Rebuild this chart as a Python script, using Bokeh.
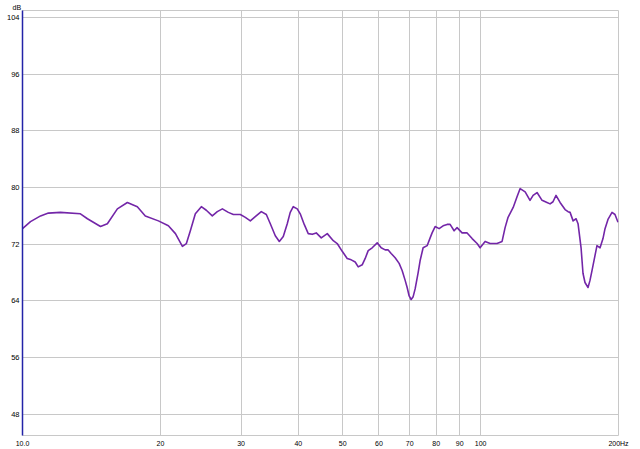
from bokeh.plotting import figure
from bokeh.models import FixedTicker, Range1d, Title
from bokeh.embed import file_html
from bokeh.resources import INLINE

# Frequency response data (Hz, dB)
freq_hz = [10.0, 10.41, 10.95, 11.39, 12.10, 13.38, 13.86, 14.80, 15.32, 16.11,
           16.94, 17.81, 18.54, 19.80, 20.82, 21.57, 22.34, 22.79, 23.25, 23.84,
           24.57, 25.19, 25.96, 26.62, 27.31, 28.14, 28.86, 29.89, 30.65, 31.43,
           32.22, 33.21, 34.06, 34.75, 35.63, 36.36, 37.09, 37.84, 38.41, 39.00,
           39.79, 40.39, 41.21, 42.05, 42.91, 43.78, 44.89, 46.27, 47.69, 48.64,
           49.88, 51.14, 52.19, 53.24, 54.06, 55.15, 55.99, 56.84, 57.99, 59.47,
           60.67, 61.90, 62.84, 63.79, 65.08, 66.40, 67.41, 68.44, 69.13, 69.83,
           70.53, 71.25, 71.96, 73.06, 73.79, 74.91, 76.43, 77.6, 78.37, 79.57,
           81.18, 82.83, 84.50, 85.79, 87.53, 88.85, 91.11, 93.45, 95.83, 98.26,
           99.75, 102.3, 104.9, 108.6, 111.4, 113.1, 114.8, 117.8, 120.1, 122.0,
           125.1, 128.2, 130.2, 132.8, 136.2, 139.6, 141.8, 143.9, 146.1, 149.1,
           152.9, 155.2, 156.8, 159.2, 161.6, 163.2, 165.7, 167.3, 169.0, 171.6,
           173.3, 175.1, 177.7, 179.5, 182.3, 185.0, 186.9, 189.7, 193.6, 196.5,
           199.5]
spl_db = [74.2, 75.2, 76.0, 76.4, 76.5, 76.3, 75.6, 74.5, 74.9, 77.0,
          77.9, 77.3, 76.0, 75.3, 74.6, 73.5, 71.7, 72.1, 73.9, 76.3,
          77.3, 76.8, 76.0, 76.6, 77.0, 76.5, 76.2, 76.2, 75.8, 75.3,
          75.9, 76.6, 76.2, 74.9, 73.2, 72.4, 73.1, 74.9, 76.5, 77.3,
          77.0, 76.3, 74.8, 73.5, 73.4, 73.6, 72.9, 73.5, 72.5, 72.1,
          71.0, 70.0, 69.8, 69.5, 68.8, 69.1, 70.0, 71.1, 71.5, 72.2,
          71.5, 71.2, 71.2, 70.7, 70.1, 69.3, 68.3, 66.9, 65.9, 64.7,
          64.2, 64.6, 65.7, 68.0, 69.7, 71.5, 71.8, 72.9, 73.6, 74.5,
          74.2, 74.6, 74.8, 74.8, 73.9, 74.35, 73.6, 73.6, 72.8, 72.1,
          71.5, 72.4, 72.1, 72.1, 72.4, 74.35, 75.8, 77.2, 78.7, 79.86,
          79.4, 78.2, 78.9, 79.3, 78.2, 77.9, 77.7, 78.0, 78.9, 77.9,
          76.9, 76.6, 76.5, 75.3, 75.6, 74.9, 71.5, 67.9, 66.6, 65.9,
          66.9, 68.3, 70.4, 71.8, 71.5, 72.8, 74.2, 75.5, 76.5, 76.2,
          75.1]

x_ticks = [10, 20, 30, 40, 50, 60, 70, 80, 90, 100, 200]
x_tick_labels = ["10.0", "20", "30", "40", "50", "60", "70", "80", "90", "100", "200Hz"]
y_ticks = [48, 56, 64, 72, 80, 88, 96, 104]
y_tick_labels = ["48", "56", "64", "72", "80", "88", "96", "104"]
y_unit_label = "dB"

FONT = "Liberation Sans"
GRID = "#c8c8c8"
AXIS_BLUE = "#2323a8"

p = figure(width=640, height=449, x_axis_type="log",
           x_range=Range1d(10, 200), y_range=Range1d(45, 105),
           output_backend="svg", toolbar_location=None,
           min_border_left=22, min_border_right=22,
           min_border_top=10, min_border_bottom=14)

p.background_fill_color = "white"
p.border_fill_color = "white"
p.outline_line_color = GRID
p.outline_line_width = 1

p.add_layout(Title(text=y_unit_label, align="left", offset=-10, standoff=0,
                   text_font=FONT, text_font_size="7px", text_font_style="normal",
                   text_color="#000000"), "above")

p.line(freq_hz, spl_db, line_color="#7326a8", line_width=1.6, line_join="round")

xa = p.xaxis[0]
xa.ticker = FixedTicker(ticks=x_ticks, minor_ticks=[])
xa.major_label_overrides = {t: l for t, l in zip(x_ticks, x_tick_labels)}
xa.axis_line_color = None
xa.major_tick_line_color = None
xa.minor_tick_line_color = None
xa.major_tick_out = 0
xa.major_tick_in = 0
xa.minor_tick_out = 0
xa.major_label_standoff = 4
xa.major_label_text_font = FONT
xa.major_label_text_font_size = "7px"
xa.major_label_text_color = "#000000"

ya = p.yaxis[0]
ya.ticker = FixedTicker(ticks=y_ticks, minor_ticks=[])
ya.major_label_overrides = {t: l for t, l in zip(y_ticks, y_tick_labels)}
ya.axis_line_color = AXIS_BLUE
ya.axis_line_width = 1.5
ya.major_tick_line_color = None
ya.minor_tick_line_color = None
ya.major_tick_out = 0
ya.major_tick_in = 0
ya.minor_tick_out = 0
ya.major_label_standoff = 3
ya.major_label_text_font = FONT
ya.major_label_text_font_size = "7.5px"
ya.major_label_text_color = "#000000"

p.xgrid[0].ticker = FixedTicker(ticks=x_ticks, minor_ticks=[])
p.xgrid[0].grid_line_color = GRID
p.ygrid[0].ticker = FixedTicker(ticks=y_ticks, minor_ticks=[])
p.ygrid[0].grid_line_color = GRID

open("out.html", "w").write(file_html(p, INLINE))
